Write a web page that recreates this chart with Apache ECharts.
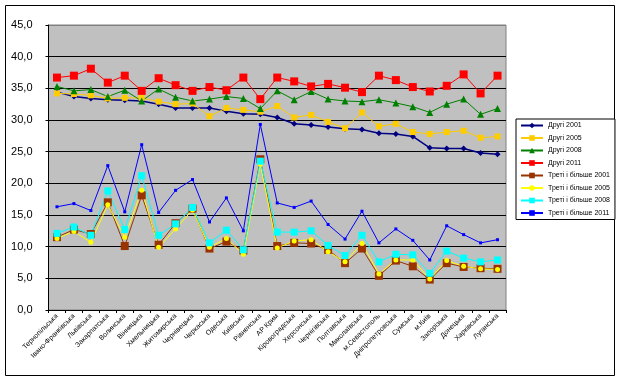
<!DOCTYPE html>
<html><head><meta charset="utf-8">
<script src="https://cdn.jsdelivr.net/npm/echarts@6/dist/echarts.min.js"></script>
<style>html,body{margin:0;padding:0;background:#fff}#c{width:618px;height:380px}</style>
</head><body><div id="c"></div>
<script>
const categories = ["Тернопільська","Івано-Франківська","Львівська","Закарпатська","Волинська","Вінницька","Хмельницька","Житомирська","Чернівецька","Черкаська","Одеська","Київська","Рівненська","АР Крим","Кіровоградська","Херсонська","Чернігівська","Полтавська","Миколаївська","м.Севастополь","Дніпропетровська","Сумська","м.Київ","Запорізька","Донецька","Харківська","Луганська"];
const yTicks = [0,5,10,15,20,25,30,35,40,45];

const druhi2001 = [34.4,33.7,33.4,33.2,33.1,33.0,32.5,31.9,31.9,31.9,31.4,31.0,30.9,30.4,29.4,29.2,28.9,28.6,28.5,27.9,27.8,27.4,25.6,25.5,25.5,24.8,24.6];
const druhi2005 = [34.2,34.1,33.9,33.4,33.5,33.5,32.9,32.5,32.6,30.6,31.9,31.6,31.3,32.2,30.4,30.8,29.7,28.7,31.2,29.0,29.4,28.1,27.8,28.1,28.3,27.2,27.4];
const druhi2008 = [35.3,34.6,34.8,33.7,34.7,33.0,34.9,33.6,33.0,33.3,33.7,33.4,31.8,34.6,33.2,34.5,33.3,33.0,32.9,33.2,32.7,32.1,31.2,32.5,33.3,30.9,31.8];
const druhi2011 = [36.7,37.0,38.1,35.9,37.0,34.6,36.6,35.5,34.6,35.2,34.7,36.7,33.3,36.7,36.1,35.3,35.7,35.1,34.4,37.0,36.3,35.2,34.5,35.4,37.2,34.2,37.0];
const treti2001 = [11.5,12.7,12.0,17.0,10.1,18.1,10.3,13.7,16.0,9.7,10.8,9.4,23.8,10.1,10.6,10.5,9.5,7.4,9.7,5.4,7.8,6.9,4.8,7.4,6.8,6.6,6.5];
const treti2005 = [11.3,12.4,10.7,16.6,11.5,18.9,9.9,12.8,15.8,9.9,11.3,8.8,23.0,9.8,10.9,11.1,9.2,7.6,10.5,5.7,7.9,7.9,4.9,7.8,6.9,6.5,6.4];
const treti2008 = [12.1,13.1,11.8,18.8,12.7,21.2,11.8,13.6,16.2,10.6,12.6,9.5,23.5,12.3,12.3,12.5,10.2,8.6,11.8,7.6,8.8,8.7,5.8,9.3,8.2,7.6,7.9];
const treti2011 = [16.3,16.8,15.7,22.8,15.5,26.1,15.4,18.9,20.6,13.9,17.7,12.5,29.3,16.9,16.2,17.2,13.5,11.2,15.6,10.6,12.8,11.0,7.9,13.3,11.9,10.6,11.1];

const seriesDefs = [
  {name:"Другі 2001", data:druhi2001, color:"#000080", symbol:"diamond", size:6, width:1.5},
  {name:"Другі 2005", data:druhi2005, color:"#FFCC00", symbol:"rect", size:6, width:1},
  {name:"Другі 2008", data:druhi2008, color:"#008000", symbol:"triangle", size:7, width:1},
  {name:"Другі 2011", data:druhi2011, color:"#FF0000", symbol:"rect", size:8, width:1},
  {name:"Треті і більше 2001", data:treti2001, color:"#993300", symbol:"rect", size:8, width:1},
  {name:"Треті і більше 2005", data:treti2005, color:"#FFFF00", symbol:"circle", size:5, width:1},
  {name:"Треті і більше 2008", data:treti2008, color:"#00FFFF", symbol:"rect", size:7, width:1},
  {name:"Треті і більше 2011", data:treti2011, color:"#0000FF", symbol:"rect", size:3, width:1}
];

const chart = echarts.init(document.getElementById('c'), null, {renderer:'canvas'});
const FONT = "Liberation Sans, Arial, sans-serif";
chart.setOption({
  animation:false,
  backgroundColor:'#fff',
  textStyle:{fontFamily:FONT},
  graphic:[{type:'rect', shape:{x:5.5,y:5.5,width:609,height:370}, style:{fill:null, stroke:'#000', lineWidth:1}, z:-10}],
  grid:{left:48.5, top:25, width:457.5, height:285, show:true, backgroundColor:'#C0C0C0', borderColor:'#808080', borderWidth:1},
  legend:{
    orient:'vertical', left:516, top:119,
    itemWidth:22, itemHeight:7, itemGap:5.5,
    padding:[3,5,3,4],
    borderColor:'#000', borderWidth:1, backgroundColor:'#fff',
    textStyle:{fontSize:7, color:'#000', fontFamily:FONT},
    data: seriesDefs.map(s=>s.name)
  },
  xAxis:{
    type:'category', data:categories, boundaryGap:true,
    axisLine:{lineStyle:{color:'#000', width:1}},
    axisTick:{show:true, interval:0, length:3, lineStyle:{color:'#000'}},
    axisLabel:{interval:0, rotate:45, fontSize:7, color:'#000', margin:5, fontFamily:FONT},
    splitLine:{show:false}
  },
  yAxis:{
    type:'value', min:yTicks[0], max:yTicks[yTicks.length-1], interval:5,
    axisLine:{show:true, lineStyle:{color:'#000', width:1}},
    axisTick:{show:true, length:3, lineStyle:{color:'#000'}},
    axisLabel:{fontSize:11, color:'#000', margin:16, fontFamily:FONT, formatter:v=>v.toFixed(1).replace('.',',')},
    splitLine:{show:true, lineStyle:{color:['#000','#000','#000','#000','#000','#000','#000','#000','#000','#808080'], width:1}}
  },
  series: seriesDefs.map(s=>({
    name:s.name, type:'line', data:s.data,
    symbol:s.symbol, symbolSize:s.size, showSymbol:true,
    itemStyle:{color:s.color, borderWidth:0},
    lineStyle:{color:s.color, width:s.width},
    emphasis:{disabled:true}
  }))
});
</script></body></html>
